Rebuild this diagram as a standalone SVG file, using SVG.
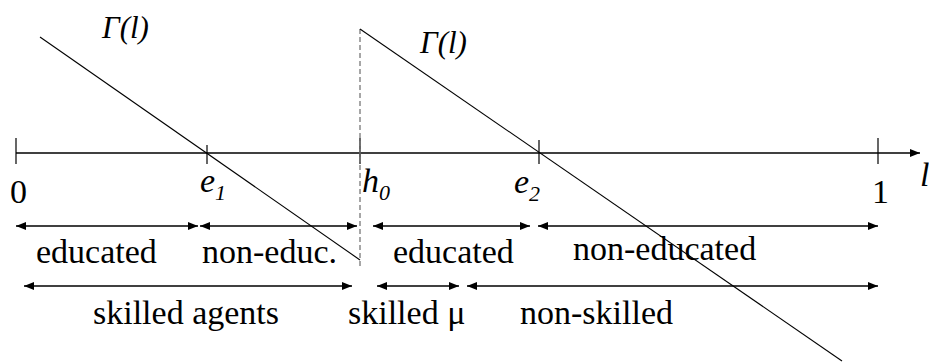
<svg xmlns="http://www.w3.org/2000/svg" width="929" height="364" viewBox="0 0 929 364" font-family="'Liberation Serif', 'Times New Roman', 'DejaVu Serif', serif">
<style>
text { fill: #000; }
.lbl { font-size: 34px; }
.it { font-style: italic; }
.ax { stroke: #000; stroke-width: 1.3; fill: none; }
.tick { stroke: #000; stroke-width: 1.2; }
.curve { stroke: #000; stroke-width: 1.1; fill: none; }
.dash { stroke: #777; stroke-width: 1.3; stroke-dasharray: 5 3; fill: none; }
.span { stroke: #000; stroke-width: 1.5; fill: none; marker-start: url(#ah); marker-end: url(#ah); }
</style>
<defs>
<marker id="ah" viewBox="0 0 10 8" refX="10" refY="4" markerWidth="10" markerHeight="8" markerUnits="userSpaceOnUse" orient="auto-start-reverse">
<path d="M0,0 L10,4 L0,8 z" fill="#000"/>
</marker>
<marker id="axh" viewBox="0 0 10 8" refX="10" refY="4" markerWidth="10" markerHeight="8" markerUnits="userSpaceOnUse" orient="auto">
<path d="M0,0 L10,4 L0,8 z" fill="#000"/>
</marker>
</defs>
<g id="axis">
<line class="ax" x1="16" y1="153" x2="920" y2="153" marker-end="url(#axh)"/>
<line class="tick" x1="16" y1="138" x2="16" y2="164"/>
<line class="tick" x1="207" y1="145" x2="207" y2="164"/>
<line class="tick" x1="360" y1="138" x2="360" y2="164" stroke="#777"/>
<line class="tick" x1="539" y1="140" x2="539" y2="164"/>
<line class="tick" x1="878" y1="138" x2="878" y2="164"/>
<text class="lbl" x="10" y="203">0</text>
<text class="lbl" x="872" y="203">1</text>
<text class="lbl it" x="920" y="186">l</text>
<text class="lbl it" x="200" y="192">e<tspan font-size="22" dy="8">1</tspan></text>
<text class="lbl it" x="362" y="192">h<tspan font-size="22" dy="8">0</tspan></text>
<text class="lbl it" x="514" y="193">e<tspan font-size="22" dy="8">2</tspan></text>
</g>
<g id="gamma-curves">
<line class="curve" x1="40" y1="37" x2="360" y2="260"/>
<line class="dash" x1="360" y1="29" x2="360" y2="268"/>
<line class="curve" x1="360" y1="29" x2="842" y2="361"/>
<text class="it" font-size="31" x="102" y="38">Γ(l)</text>
<text class="it" font-size="31" x="420" y="53">Γ(l)</text>
</g>
<g id="connectors">
<line class="span" x1="16" y1="226" x2="198" y2="226"/>
<line class="span" x1="200" y1="226" x2="357" y2="226"/>
<line class="span" x1="373" y1="226" x2="530" y2="226"/>
<line class="span" x1="538" y1="226" x2="878" y2="226"/>
<line class="span" x1="24" y1="286" x2="352" y2="286"/>
<line class="span" x1="377" y1="286" x2="459" y2="286"/>
<line class="span" x1="467" y1="286" x2="878" y2="286"/>
</g>
<g id="labels">
<text class="lbl" x="36" y="263">educated</text>
<text class="lbl" x="202" y="263">non-educ.</text>
<text class="lbl" x="393" y="263">educated</text>
<text class="lbl" x="573" y="260">non-educated</text>
<text class="lbl" x="93" y="324">skilled agents</text>
<text class="lbl" x="348" y="324">skilled μ</text>
<text class="lbl" x="520" y="324">non-skilled</text>
</g>
</svg>
